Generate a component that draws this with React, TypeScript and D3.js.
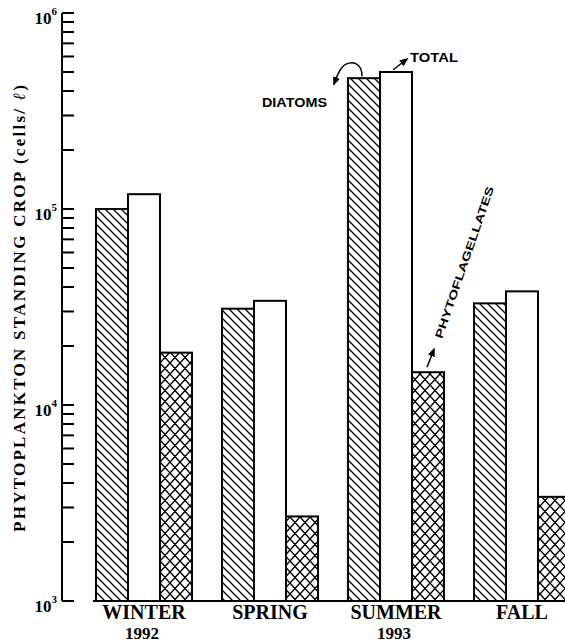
import React from "react";
import * as d3 from "d3";

const seasons = ["WINTER", "SPRING", "SUMMER", "FALL"];
const seriesKeys = ["diatoms", "total", "phytoflagellates"];
const diatoms = [100000, 31000, 465000, 33000];
const total = [119000, 34000, 500000, 38000];
const phytoflagellates = [18500, 2700, 14700, 3400];
const yearLabels = [
  { season: "WINTER", year: "1992" },
  { season: "SUMMER", year: "1993" },
];
const decadeTicks = [1e3, 1e4, 1e5, 1e6];

const W = 565;
const H = 644;
const SERIF = "'Liberation Serif', 'DejaVu Serif', serif";
const SANS = "'Liberation Sans', Arial, sans-serif";

export default function App() {
  const y = d3.scaleLog().domain([1e3, 1e6]).range([601, 13]);
  const x = d3
    .scaleBand<string>()
    .domain(seasons)
    .range([96, 570])
    .paddingInner(0.238)
    .paddingOuter(0);
  const xs = d3
    .scaleBand<string>()
    .domain(seriesKeys)
    .range([0, x.bandwidth()]);

  const values: Record<string, number[]> = { diatoms, total, phytoflagellates };
  const fills: Record<string, string> = {
    diatoms: "url(#hatch)",
    total: "#fff",
    phytoflagellates: "url(#cross)",
  };

  const axisX = 62;
  const base = y(1e3);

  // minor + major ticks, 1..9 per decade
  const ticks = y.ticks(30);

  // annotation anchors (summer bars)
  const si = seasons.indexOf("SUMMER");
  const dx = x("SUMMER")! + xs("diatoms")!;
  const dy = y(diatoms[si]);
  const tx = x("SUMMER")! + xs("total")!;
  const ty = y(total[si]);
  const px = x("SUMMER")! + xs("phytoflagellates")!;
  const py = y(phytoflagellates[si]);

  return (
    <svg
      width={W}
      height={H}
      style={{ position: "absolute", left: 0, top: 0, display: "block", background: "#fff" }}
    >
      <defs>
        <pattern id="hatch" patternUnits="userSpaceOnUse" width={8} height={8}>
          <path d="M-2,-2 L10,10 M-2,6 L2,10 M6,-2 L10,2" stroke="#000" strokeWidth={1.3} />
        </pattern>
        <pattern id="cross" patternUnits="userSpaceOnUse" width={10} height={11}>
          <path
            d="M0,0 L10,11 M10,0 L0,11 M-5,5.5 L0,11 M5,-5.5 L10,0 M5,16.5 L0,11"
            stroke="#000"
            strokeWidth={1.4}
          />
          <path d="M15,5.5 L10,11 M5,-5.5 L0,0 M5,16.5 L10,11" stroke="#000" strokeWidth={1.4} />
        </pattern>
        <marker
          id="arrow"
          viewBox="0 0 10 10"
          refX={8}
          refY={5}
          markerWidth={6}
          markerHeight={6}
          orient="auto"
        >
          <path d="M0,1 L10,5 L0,9 Z" fill="#000" />
        </marker>
      </defs>

      {/* y axis */}
      {ticks.map((t, i) => (
        <rect key={"tk" + i} x={axisX} y={y(t) - 1} width={12} height={2} fill="#000" />
      ))}
      <rect x={axisX - 1} y={y(1e6)} width={2} height={base - y(1e6)} fill="#000" />
      {decadeTicks.map((t) => (
        <text
          key={t}
          x={57}
          y={y(t) + 11}
          textAnchor="end"
          fontFamily={SERIF}
          fontWeight="bold"
          fontSize={17}
        >
          10
          <tspan dy={-9} fontSize={11}>
            {Math.round(Math.log10(t))}
          </tspan>
        </text>
      ))}
      <text
        transform={`translate(25,${(85 + 532) / 2}) rotate(-90)`}
        textAnchor="middle"
        fontFamily={SERIF}
        fontWeight={600}
        fontSize={17}
        textLength={447}
        lengthAdjust="spacing"
      >
        PHYTOPLANKTON STANDING CROP (cells/ <tspan fontStyle="italic">ℓ</tspan>)
      </text>

      {/* baseline */}
      <line x1={93} x2={W} y1={base} y2={base} stroke="#000" strokeWidth={2} />

      {/* bars */}
      {seasons.map((s, i) => (
        <g key={s}>
          {seriesKeys.map((k) => (
            <rect
              key={k}
              x={x(s)! + xs(k)!}
              y={y(values[k][i])}
              width={xs.bandwidth()}
              height={base - y(values[k][i])}
              fill={fills[k]}
              stroke="#000"
              strokeWidth={2}
            />
          ))}
          <text
            x={x(s)! + x.bandwidth() / 2}
            y={619}
            textAnchor="middle"
            fontFamily={SERIF}
            fontWeight="bold"
            fontSize={20}
          >
            {s}
          </text>
        </g>
      ))}
      {yearLabels.map((d) => (
        <text
          key={d.year}
          x={x(d.season)! + x.bandwidth() / 2 - 2}
          y={639}
          textAnchor="middle"
          fontFamily={SERIF}
          fontWeight="bold"
          fontSize={17}
        >
          {d.year}
        </text>
      ))}

      {/* annotations */}
      <path
        d={`M${dx + 14},${dy - 2} C${dx + 14},${dy - 16} ${dx + 4},${dy - 17} ${dx - 2},${dy - 14} S${dx - 11},${dy - 2} ${dx - 14},${dy + 6}`}
        fill="none"
        stroke="#000"
        strokeWidth={1.5}
        markerEnd="url(#arrow)"
      />
      <text
        x={dx - 21}
        y={dy + 29}
        textAnchor="end"
        fontFamily={SANS}
        fontWeight={900}
        fontSize={12}
        textLength={65}
        lengthAdjust="spacingAndGlyphs"
      >
        DIATOMS
      </text>
      <line
        x1={tx + 13}
        y1={ty - 2}
        x2={tx + 27}
        y2={ty - 13}
        stroke="#000"
        strokeWidth={1.5}
        markerEnd="url(#arrow)"
      />
      <text
        x={tx + 30}
        y={ty - 10}
        fontFamily={SANS}
        fontWeight={900}
        fontSize={12}
        textLength={48}
        lengthAdjust="spacingAndGlyphs"
      >
        TOTAL
      </text>
      <line
        x1={px + 15}
        y1={py - 5}
        x2={px + 22}
        y2={py - 23}
        stroke="#000"
        strokeWidth={1.5}
        markerEnd="url(#arrow)"
      />
      <text
        transform={`translate(${px + 30},${py - 33}) rotate(-71)`}
        fontFamily={SANS}
        fontWeight={900}
        fontSize={11}
        textLength={160}
        lengthAdjust="spacingAndGlyphs"
      >
        PHYTOFLAGELLATES
      </text>
    </svg>
  );
}
